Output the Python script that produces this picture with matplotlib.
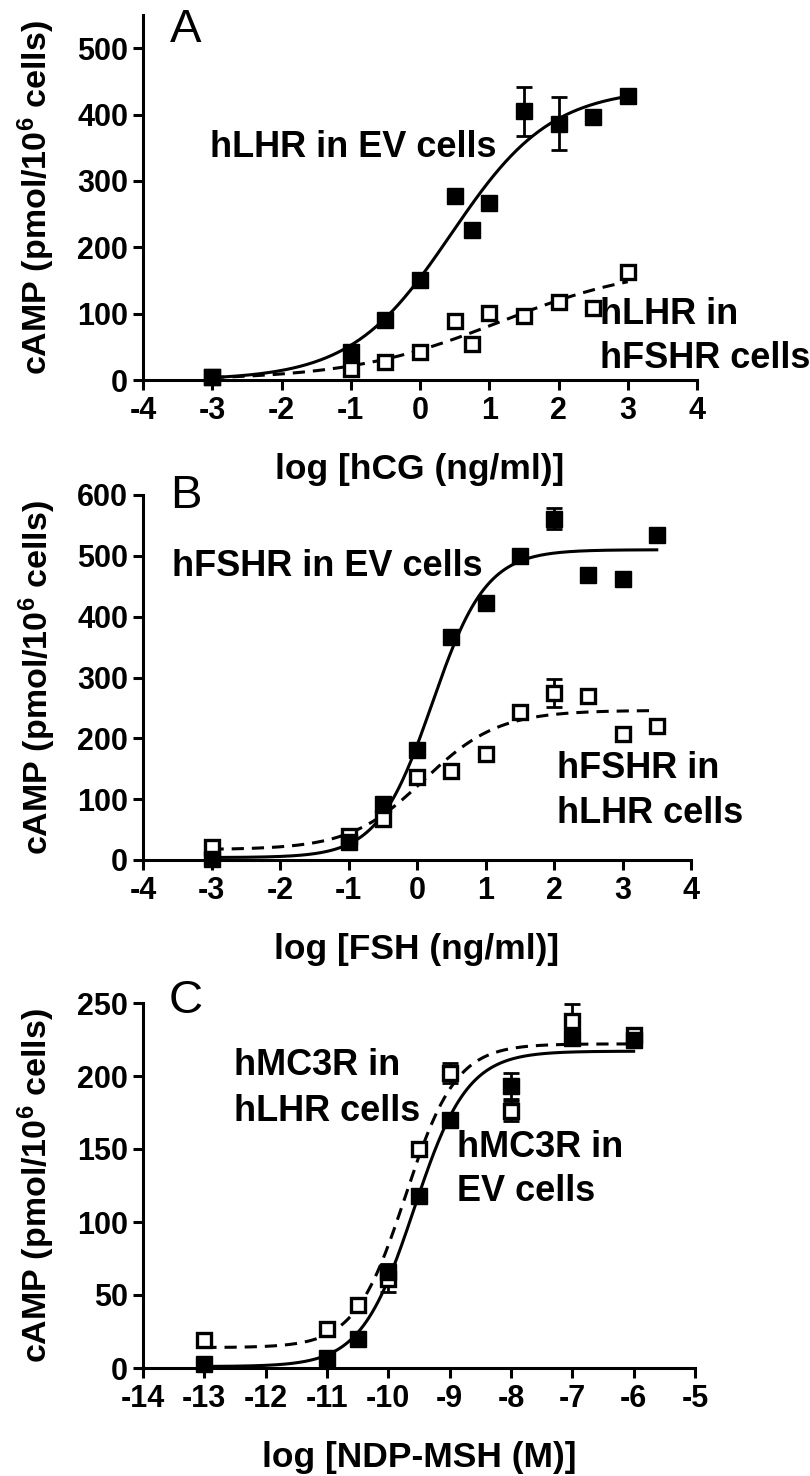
import numpy as np
import matplotlib

matplotlib.use("Agg")
from matplotlib import pyplot as plt

plt.rcParams["font.family"] = ["Liberation Sans", "DejaVu Sans"]
plt.rcParams["font.weight"] = "bold"
plt.rcParams["axes.unicode_minus"] = False
plt.rcParams["mathtext.fontset"] = "custom"
plt.rcParams["mathtext.rm"] = "Liberation Sans:bold"
plt.rcParams["mathtext.it"] = "Liberation Sans:bold"
plt.rcParams["mathtext.bf"] = "Liberation Sans:bold"

# panel A : hCG
a_x = [-3, -1, -0.5, 0, 0.5, 0.75, 1, 1.5, 2, 2.5, 3]
a_ev = [5, 42, 91, 151, 278, 226, 267, 405, 386, 397, 428]
a_ev_err = [0, 0, 0, 0, 0, 0, 0, 37, 40, 0, 0]
a_fsh = [5, 17, 27, 42, 89, 54, 101, 96, 117, 109, 162]
a_fsh_err = [0, 0, 0, 0, 0, 0, 0, 0, 0, 0, 0]
# fitted curves: bottom, top, logEC50, hill
a_fit_ev = [0, 440, 0.45, 0.6]
a_fit_fsh = [0, 175, 1.15, 0.4]

# panel B : FSH
b_x = [-3, -1, -0.5, 0, 0.5, 1, 1.5, 2, 2.5, 3, 3.5]
b_ev = [2, 30, 92, 181, 366, 423, 500, 561, 469, 462, 535]
b_ev_err = [0, 0, 0, 0, 0, 0, 0, 17, 0, 0, 0]
b_lhr = [21, 40, 68, 137, 147, 175, 243, 275, 269, 207, 221]
b_lhr_err = [0, 0, 0, 0, 0, 0, 8, 23, 0, 0, 0]
b_fit_ev = [4, 510, 0.22, 1.1]
b_fit_lhr = [17, 246, 0.1, 0.8]

# panel C : NDP-MSH
c_x = [-13, -11, -10.5, -10, -9.5, -9, -8, -7, -6]
c_ev = [3, 7, 20, 66, 118, 170, 193, 226, 225]
c_ev_err = [0, 0, 0, 5, 0, 0, 9, 4, 3]
c_lhr = [19, 27, 43, 61, 150, 202, 176, 238, 228]
c_lhr_err = [0, 0, 0, 9, 0, 7, 7, 11, 3]
c_fit_ev = [1, 217, -9.58, 1.0]
c_fit_lhr = [14, 222, -9.72, 1.05]

LW = 2.2


def sigmoid(x, p):
    bottom, top, ec50, hill = p
    return bottom + (top - bottom) / (1 + 10 ** ((ec50 - x) * hill))


def draw_series(ax, x, y, err, fit, filled, dashed):
    x = np.asarray(x, float)
    y = np.asarray(y, float)
    err = np.asarray(err, float)
    xs = np.linspace(x.min(), x.max(), 300)
    ax.plot(xs, sigmoid(xs, fit), color="black", lw=LW,
            linestyle=(0, (4, 2.6)) if dashed else "-", zorder=2)
    m = err > 0
    if m.any():
        ax.errorbar(x[m], y[m], yerr=err[m], fmt="none", ecolor="black",
                    elinewidth=2.0, capsize=5.5, capthick=2.0, zorder=3)
    if filled:
        ax.plot(x, y, "s", color="black", ms=11.2, mew=1.0, zorder=4,
                clip_on=False)
    else:
        ax.plot(x, y, "s", mfc="white", mec="black", ms=9.6, mew=2.4,
                zorder=4, clip_on=False)


def style_axis(ax, xlim, xticks, ylim, yticks, xlabel):
    for s in ["top", "right"]:
        ax.spines[s].set_visible(False)
    for s in ["left", "bottom"]:
        ax.spines[s].set_linewidth(LW)
    ax.set_xlim(xlim)
    ax.set_ylim(ylim)
    ax.set_xticks(xticks)
    ax.set_yticks(yticks)
    ax.tick_params(axis="both", direction="out", length=7.2, width=LW,
                   labelsize=22)
    ax.tick_params(axis="x", pad=4.5)
    ax.tick_params(axis="y", pad=3.5)
    ax.set_xlabel(xlabel, fontsize=25.5, fontweight="bold")
    ax.xaxis.set_label_coords(0.5, -0.2)
    ax.set_ylabel(r"cAMP (pmol/10$^{6}$ cells)", fontsize=24.5,
                  fontweight="bold")
    ax.yaxis.set_label_coords(-0.155, 0.5)


fig = plt.figure(figsize=(8.1, 14.76), dpi=100)
W, H = 810, 1476


def add_axes(top, bottom, left=143, right=697):
    return fig.add_axes([left / W, 1 - bottom / H, (right - left) / W,
                         (bottom - top) / H])


# --- A
ax = add_axes(15, 380)
draw_series(ax, a_x, a_fsh, a_fsh_err, a_fit_fsh, False, True)
draw_series(ax, a_x, a_ev, a_ev_err, a_fit_ev, True, False)
style_axis(ax, (-4, 4), range(-4, 5), (0, 550), range(0, 501, 100),
           "log [hCG (ng/ml)]")
tk = dict(fontsize=26, fontweight="bold", va="center", ha="left",
          clip_on=False)
ax.text(-3.03, 350, "hLHR in EV cells", **tk)
ax.text(2.6, 98, "hLHR in", **tk)
ax.text(2.6, 32, "hFSHR cells", **tk)

# --- B
ax = add_axes(495, 860, right=691)
draw_series(ax, b_x, b_lhr, b_lhr_err, b_fit_lhr, False, True)
draw_series(ax, b_x, b_ev, b_ev_err, b_fit_ev, True, False)
style_axis(ax, (-4, 4), range(-4, 5), (0, 600), range(0, 601, 100),
           "log [FSH (ng/ml)]")
ax.text(-3.58, 483, "hFSHR in EV cells", **tk)
ax.text(2.04, 151, "hFSHR in", **tk)
ax.text(2.04, 77, "hLHR cells", **tk)

# --- C
ax = add_axes(1003, 1368, right=695)
draw_series(ax, c_x, c_lhr, c_lhr_err, c_fit_lhr, False, True)
draw_series(ax, c_x, c_ev, c_ev_err, c_fit_ev, True, False)
style_axis(ax, (-14, -5), range(-14, -4), (0, 250), range(0, 251, 50),
           "log [NDP-MSH (M)]")
ax.text(-12.52, 207, "hMC3R in", **tk)
ax.text(-12.52, 176, "hLHR cells", **tk)
ax.text(-8.88, 151, "hMC3R in", **tk)
ax.text(-8.88, 121, "EV cells", **tk)

# panel letters
for lab, x, y in [("A", 170, 30), ("B", 170, 496), ("C", 169, 1001)]:
    fig.text(x / W, 1 - y / H, lab, fontsize=34, fontweight="normal",
             ha="left", va="center")

fig.savefig("out.png", dpi=100)
